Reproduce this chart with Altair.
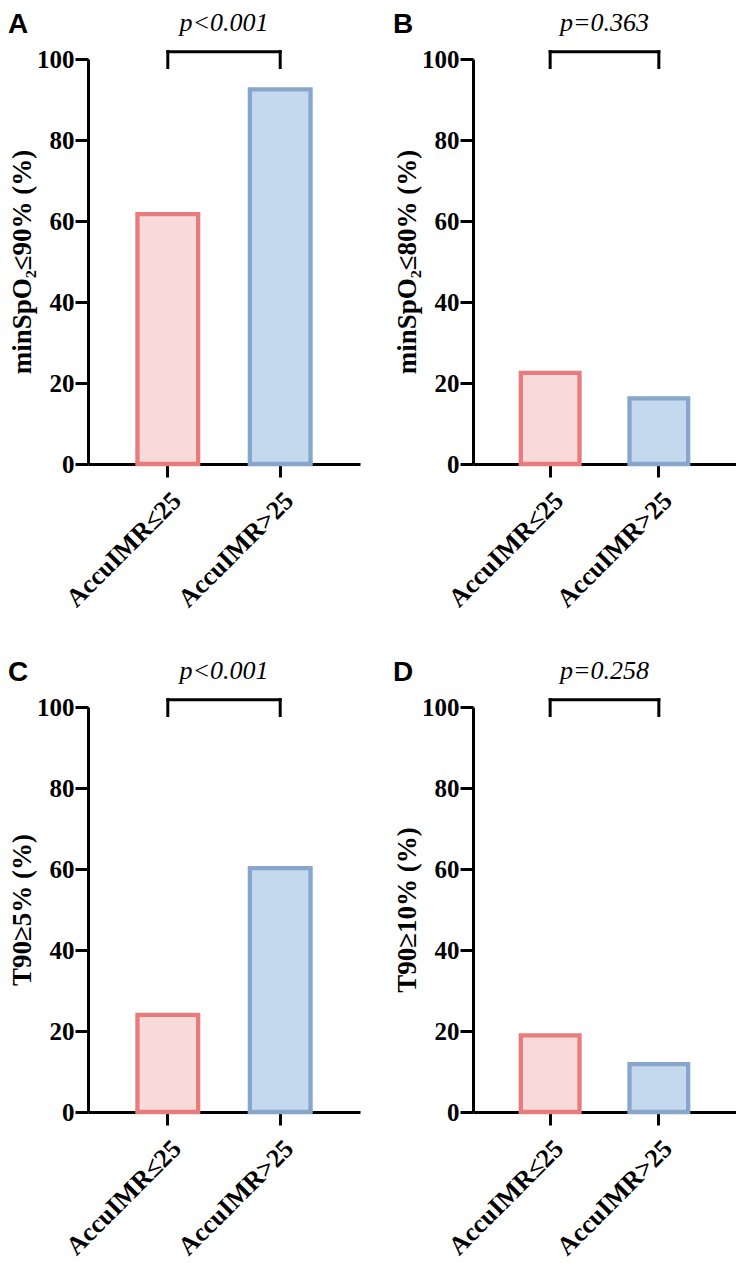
import altair as alt
import pandas as pd

groups = ["AccuIMR≤25", "AccuIMR>25"]
panel_letters = ["A", "B", "C", "D"]
y_titles = ["minSpO₂≤90% (%)", "minSpO₂≤80% (%)", "T90≥5% (%)", "T90≥10% (%)"]
values_A = [61.7, 92.5]
values_B = [22.5, 16.2]
values_C = [24.0, 60.2]
values_D = [18.9, 11.8]
p_labels = ["p<0.001", "p=0.363", "p<0.001", "p=0.258"]
y_ticks = [0, 20, 40, 60, 80, 100]
bracket_top = 101.8
bracket_leg = 97.9
p_text_y = 106.9

fills = ["#F8DADB", "#C5D9EE"]
strokes = ["#E87B7E", "#88A5CA"]

SERIF = "Liberation Serif, Times New Roman, serif"
SANS = "Liberation Sans, Arial, sans-serif"
HEIGHT = 405


def panel(letter, title, values, ptxt, width):
    df = pd.DataFrame({"group": groups, "value": values})
    xscale = alt.Scale(domain=groups, paddingInner=0.46, paddingOuter=0.44)
    yscale = alt.Scale(domain=[0, 100], nice=False)
    xenc = alt.X(
        "group:N", scale=xscale, sort=groups,
        axis=alt.Axis(title=None, labelAngle=-45, labelFontSize=26, labelPadding=10),
    )
    yenc = alt.Y(
        "value:Q", scale=yscale,
        axis=alt.Axis(title=title, values=y_ticks),
    )
    bars = alt.Chart(df).mark_bar(strokeWidth=4.3).encode(
        x=xenc,
        y=yenc,
        fill=alt.Fill("group:N", scale=alt.Scale(domain=groups, range=fills), legend=None),
        stroke=alt.Stroke("group:N", scale=alt.Scale(domain=groups, range=strokes), legend=None),
    )
    df_h = pd.DataFrame({"group": [groups[0]], "group2": [groups[1]], "value": [bracket_top]})
    hline = alt.Chart(df_h).mark_rule(color="black", strokeWidth=3, strokeCap="square").encode(
        x=alt.X("group:N"), x2="group2:N", y=alt.Y("value:Q")
    )
    df_v = pd.DataFrame({"group": groups, "value": [bracket_leg] * 2, "value2": [bracket_top] * 2})
    vlines = alt.Chart(df_v).mark_rule(color="black", strokeWidth=3, strokeCap="square").encode(
        x=alt.X("group:N"), y=alt.Y("value:Q"), y2="value2:Q"
    )
    df_p = pd.DataFrame({"label": [ptxt], "value": [p_text_y]})
    ptext = alt.Chart(df_p).mark_text(
        font=SERIF, fontStyle="italic", fontSize=26, baseline="alphabetic", align="center", color="black"
    ).encode(x=alt.value(width / 2), y=alt.Y("value:Q"), text="label:N")
    df_l = pd.DataFrame({"letter": [letter]})
    ltext = alt.Chart(df_l).mark_text(
        font=SANS, fontWeight="bold", fontSize=28, baseline="alphabetic", align="left", color="black"
    ).encode(x=alt.value(-80), y=alt.value(-26), text="letter:N")
    return alt.layer(bars, hline, vlines, ptext, ltext).properties(width=width, height=HEIGHT)


pA = panel(panel_letters[0], y_titles[0], values_A, p_labels[0], 272)
pB = panel(panel_letters[1], y_titles[1], values_B, p_labels[1], 263)
pC = panel(panel_letters[2], y_titles[2], values_C, p_labels[2], 272)
pD = panel(panel_letters[3], y_titles[3], values_D, p_labels[3], 263)

row1 = alt.hconcat(pA, pB, spacing=33)
row2 = alt.hconcat(pC, pD, spacing=33)

chart = alt.vconcat(row1, row2, spacing=46).properties(
    padding={"left": 0, "top": 2, "right": 0, "bottom": 0}
).configure_view(stroke=None).configure_axis(
    domainWidth=3, domainColor="black", tickWidth=3, tickColor="black", tickSize=13,
    labelFont=SERIF, labelFontWeight="bold", labelFontSize=25, labelColor="black",
    titleFont=SERIF, titleFontWeight="bold", titleFontSize=27, titleColor="black",
    grid=False, labelPadding=1, titlePadding=0,
)

chart.save("out.html", embed_options={"renderer": "svg", "actions": False})
